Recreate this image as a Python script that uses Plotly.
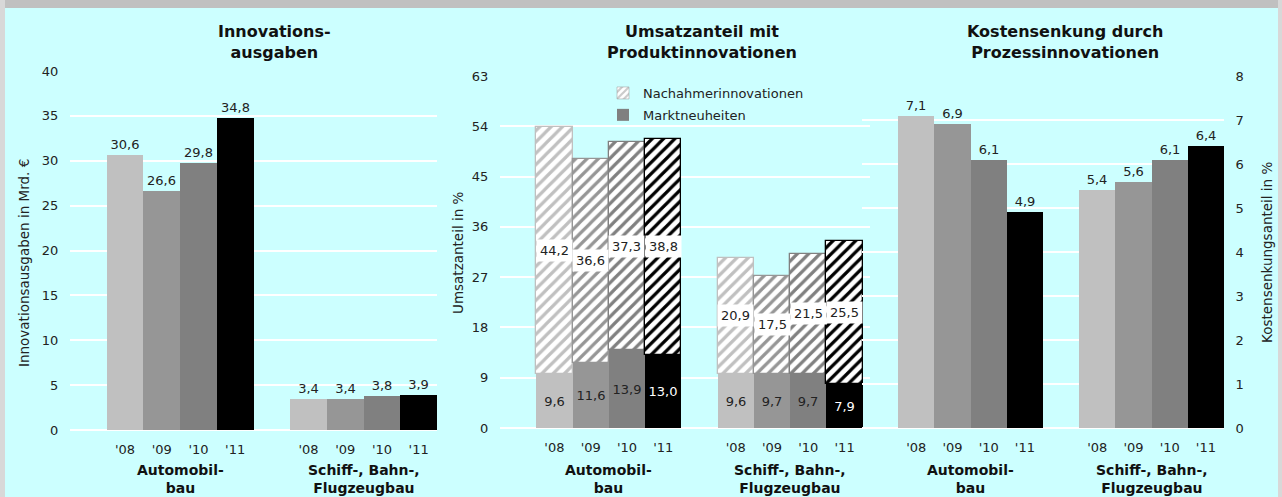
import plotly.graph_objects as go

# ---------------- data ----------------
years = ["'08", "'09", "'10", "'11"]
groups = ["Automobil-<br>bau", "Schiff-, Bahn-,<br>Flugzeugbau"]
year_colors = ["#C0C0C0", "#969696", "#808080", "#000000"]

ausgaben_auto = [30.6, 26.6, 29.8, 34.8]
ausgaben_schiff = [3.4, 3.4, 3.8, 3.9]

markt_auto = [9.6, 11.6, 13.9, 13.0]
markt_schiff = [9.6, 9.7, 9.7, 7.9]
nach_auto = [44.2, 36.6, 37.3, 38.8]
nach_schiff = [20.9, 17.5, 21.5, 25.5]

kosten_auto = [7.1, 6.9, 6.1, 4.9]
kosten_schiff = [5.4, 5.6, 6.1, 6.4]

panel_titles = ["Innovations-<br>ausgaben",
                "Umsatzanteil mit<br>Produktinnovationen",
                "Kostensenkung durch<br>Prozessinnovationen"]
y_titles = ["Innovationsausgaben in Mrd. €", "Umsatzanteil in %", "Kostensenkungsanteil in %"]
legend_names = ["Nachahmerinnovationen", "Marktneuheiten"]

# ---------------- helpers ----------------
W, H = 1282, 497
FONT = "DejaVu Sans"
TXT = "#222222"
BG = "#CCFFFF"


def px(x):
    return x / W


def py(y):
    return 1 - y / H


# bar positions: 4 years per group, one empty slot between the groups
pos = [g * 5 + i for g in range(len(groups)) for i in range(len(years))]
group_centers = [g * 5 + (len(years) - 1) / 2 for g in range(len(groups))]
cols = year_colors * len(groups)
ticktext = years * len(groups)

fig = go.Figure()

# Panel 1
fig.add_trace(go.Bar(
    x=pos, y=ausgaben_auto + ausgaben_schiff, xaxis="x", yaxis="y",
    marker=dict(color=cols, line=dict(width=0)),
    texttemplate="%{y:.1f}", textposition="outside", constraintext="none",
    textfont=dict(family=FONT, size=13, color=TXT),
    cliponaxis=False, showlegend=False, hoverinfo="skip"))

# Panel 2 - stacked
markt = markt_auto + markt_schiff
nach = nach_auto + nach_schiff
fig.add_trace(go.Bar(
    x=pos, y=markt, xaxis="x2", yaxis="y2",
    marker=dict(color=cols, line=dict(width=0)),
    texttemplate="%{y:.1f}", textposition="inside", insidetextanchor="middle",
    constraintext="none", textangle=0,
    textfont=dict(family=FONT, size=13,
                  color=[("white" if c == "#000000" else TXT) for c in cols]),
    showlegend=False, hoverinfo="skip"))
fig.add_trace(go.Bar(
    x=pos, y=nach, xaxis="x2", yaxis="y2",
    marker=dict(color="white", line=dict(color=cols, width=1.3),
                pattern=dict(shape="/", fgcolor=cols, bgcolor="white",
                             size=8, solidity=0.4, fillmode="replace")),
    showlegend=False, hoverinfo="skip"))

# legend entries (Panel 2)
fig.add_trace(go.Bar(
    x=[None], y=[None], xaxis="x2", yaxis="y2", name=legend_names[0],
    legendgroup="a",
    marker=dict(color="white", line=dict(color="#969696", width=0.5),
                pattern=dict(shape="/", fgcolor="#969696", bgcolor="white",
                             size=6, solidity=0.45))))
fig.add_trace(go.Bar(
    x=[None], y=[None], xaxis="x2", yaxis="y2", name=legend_names[1],
    legendgroup="b",
    marker=dict(color="#808080", line=dict(width=0))))

# Panel 3
fig.add_trace(go.Bar(
    x=pos, y=kosten_auto + kosten_schiff, xaxis="x3", yaxis="y3",
    marker=dict(color=cols, line=dict(width=0)),
    texttemplate="%{y:.1f}", textposition="outside", constraintext="none",
    textfont=dict(family=FONT, size=13, color=TXT),
    cliponaxis=False, showlegend=False, hoverinfo="skip"))

annotations = []
# white-boxed labels for Nachahmerinnovationen
for x, m, n in zip(pos, markt, nach):
    annotations.append(dict(
        x=x, y=m + n / 2, xref="x2", yref="y2", showarrow=False,
        text=f"{n:.1f}".replace(".", ","), bgcolor="white", borderpad=3,
        font=dict(family=FONT, size=13, color=TXT)))

# panel titles
title_x = [274, 702, 1065]
for t, xc in zip(panel_titles, title_x):
    annotations.append(dict(
        x=px(xc), y=py(42), xref="paper", yref="paper", showarrow=False,
        text=f"<b>{t}</b>", xanchor="center", yanchor="middle", align="center",
        font=dict(family=FONT, size=16, color="#111111")))

# y-axis titles
ytitle_pos = [(24, 263), (458, 253), (1267, 253)]
for t, (xc, yc) in zip(y_titles, ytitle_pos):
    annotations.append(dict(
        x=px(xc), y=py(yc), xref="paper", yref="paper", showarrow=False,
        text=t, textangle=-90, xanchor="center", yanchor="middle",
        font=dict(family=FONT, size=13.5, color=TXT)))

# group labels under each panel
for xr in ["x", "x2", "x3"]:
    for g, gc in zip(groups, group_centers):
        annotations.append(dict(
            x=gc, y=py(479), xref=xr, yref="paper", showarrow=False,
            text=f"<b>{g}</b>", xanchor="center", yanchor="middle", align="center",
            font=dict(family=FONT, size=14, color="#111111")))

xcommon = dict(tickvals=pos, ticktext=ticktext, showgrid=False, zeroline=False,
               showline=False, ticks="outside", ticklen=7, tickcolor="rgba(0,0,0,0)",
               tickfont=dict(family=FONT, size=13, color=TXT), fixedrange=True,
               automargin=False)
ycommon = dict(showgrid=True, gridcolor="white", gridwidth=1.5, zeroline=True,
               zerolinecolor="white", zerolinewidth=1.5, showline=False,
               ticks="outside", ticklen=8, tickcolor="rgba(0,0,0,0)",
               tickfont=dict(family=FONT, size=13, color=TXT), fixedrange=True,
               automargin=False)

fig.update_layout(
    width=W, height=H, autosize=False,
    margin=dict(l=0, r=0, t=0, b=0, pad=0, autoexpand=False),
    paper_bgcolor=BG, plot_bgcolor="rgba(0,0,0,0)",
    barmode="relative", bargap=0, separators=",.",
    xaxis=dict(domain=[px(70), px(437)], range=[-1.5, 8.5], anchor="y", **xcommon),
    yaxis=dict(domain=[py(430), py(71)], range=[0, 40], dtick=5, anchor="x", **ycommon),
    xaxis2=dict(domain=[px(500), px(870)], range=[-1.5, 8.7], anchor="y2", **xcommon),
    yaxis2=dict(domain=[py(428), py(76)], range=[0, 63], dtick=9, anchor="x2", **ycommon),
    xaxis3=dict(domain=[px(862), px(1224)], range=[-1.5, 8.5], anchor="y3", **xcommon),
    yaxis3=dict(domain=[py(428), py(76)], range=[0, 8], dtick=1, anchor="x3",
                side="right", **ycommon),
    legend=dict(x=px(603), y=py(78), xanchor="left", yanchor="top",
                bgcolor="rgba(0,0,0,0)", traceorder="grouped", tracegroupgap=2,
                itemwidth=30, font=dict(family=FONT, size=13, color=TXT)),
    annotations=annotations,
    shapes=[
        dict(type="rect", xref="paper", yref="paper", x0=0, x1=1, y0=py(8), y1=1,
             fillcolor="#C0C0C0", line=dict(width=0), layer="below"),
        dict(type="rect", xref="paper", yref="paper", x0=0, x1=px(5), y0=0, y1=1,
             fillcolor="#D8D8D8", line=dict(width=0), layer="below"),
        dict(type="rect", xref="paper", yref="paper", x0=px(1278), x1=1, y0=0, y1=1,
             fillcolor="#D8D8D8", line=dict(width=0), layer="below"),
    ],
    hovermode=False,
)

post = ("document.body.style.margin='0';document.body.style.padding='0';"
        "document.body.style.overflow='hidden';"
        "document.documentElement.style.overflow='hidden';"
        "var gd=document.getElementById('{plot_id}');"
        "Plotly.relayout(gd,{width:%d,height:%d});" % (W, H))

fig.write_html("out.html", post_script=post,
               config={"responsive": False, "displayModeBar": False})
